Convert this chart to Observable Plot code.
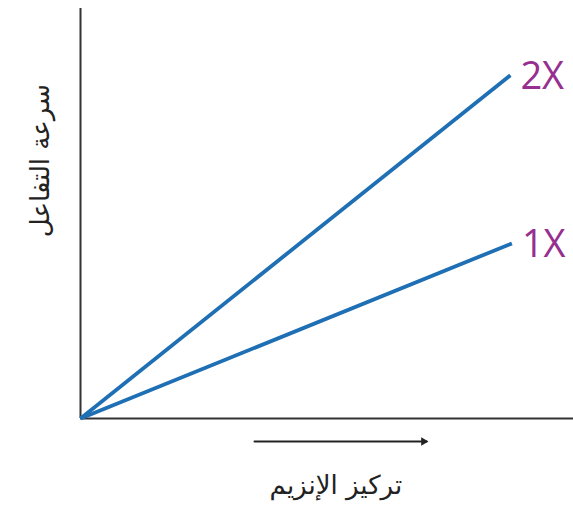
<!DOCTYPE html>
<html>
<head>
<meta charset="utf-8">
<script src="https://cdn.jsdelivr.net/npm/d3@7"></script>
<script src="https://cdn.jsdelivr.net/npm/@observablehq/plot@0.6"></script>
<style>
  html, body { margin: 0; padding: 0; background: #fff; }
</style>
</head>
<body>
<div id="chart"></div>
<script>
const series = ["1X", "2X"];
const startX = [0, 0];
const startY = [0, 0];
const endX = [87.5, 87.2];
const endY = [42.7, 83.7];
const xLabel = "تركيز الإنزيم";
const yLabel = "سرعة التفاعل";

const rows = [];
series.forEach((s, i) => {
  rows.push({series: s, x: startX[i], y: startY[i]});
  rows.push({series: s, x: endX[i], y: endY[i]});
});
const ends = series.map((s, i) => ({series: s, x: endX[i], y: endY[i]}));

const chart = Plot.plot({
  width: 573,
  height: 506,
  marginLeft: 80,
  marginRight: 0,
  marginTop: 8,
  marginBottom: 88,
  x: {domain: [0, 100], axis: null},
  y: {domain: [0, 100], axis: null},
  style: {background: "#fff", overflow: "visible"},
  marks: [
    Plot.ruleX([0], {y1: 0, y2: 100, stroke: "#333", strokeWidth: 2}),
    Plot.ruleY([0], {x1: 0, x2: 100, stroke: "#333", strokeWidth: 2}),
    Plot.line(rows, {x: "x", y: "y", z: "series", stroke: "#1f6fb4", strokeWidth: 3.8, strokeLinecap: "butt"}),
    Plot.text(ends, {x: "x", y: "y", text: "series", textAnchor: "start", dx: 10, dy: 1, fill: "#962f8f", fontSize: 38, fontFamily: "Open Sans, sans-serif"}),
    Plot.arrow([{x1: 35.3, x2: 70.2, y: -5.6}], {x1: "x1", x2: "x2", y1: "y", y2: "y", stroke: "#222", strokeWidth: 2, headLength: 0, clip: false}),
    Plot.dot([{x: 69.6, y: -5.6}], {x: "x", y: "y", symbol: "triangle2", rotate: 90, r: 4, fill: "#222", clip: false}),
    Plot.text([xLabel], {x: 51.8, y: -16.5, text: d => d, fontSize: 26, fill: "#222", fontFamily: "DejaVu Sans, sans-serif", clip: false}),
    Plot.text([yLabel], {x: -8.1, y: 62.9, text: d => d, rotate: -90, fontSize: 26, fill: "#222", fontFamily: "DejaVu Sans, sans-serif", clip: false})
  ]
});
document.getElementById("chart").appendChild(chart);
</script>
</body>
</html>
